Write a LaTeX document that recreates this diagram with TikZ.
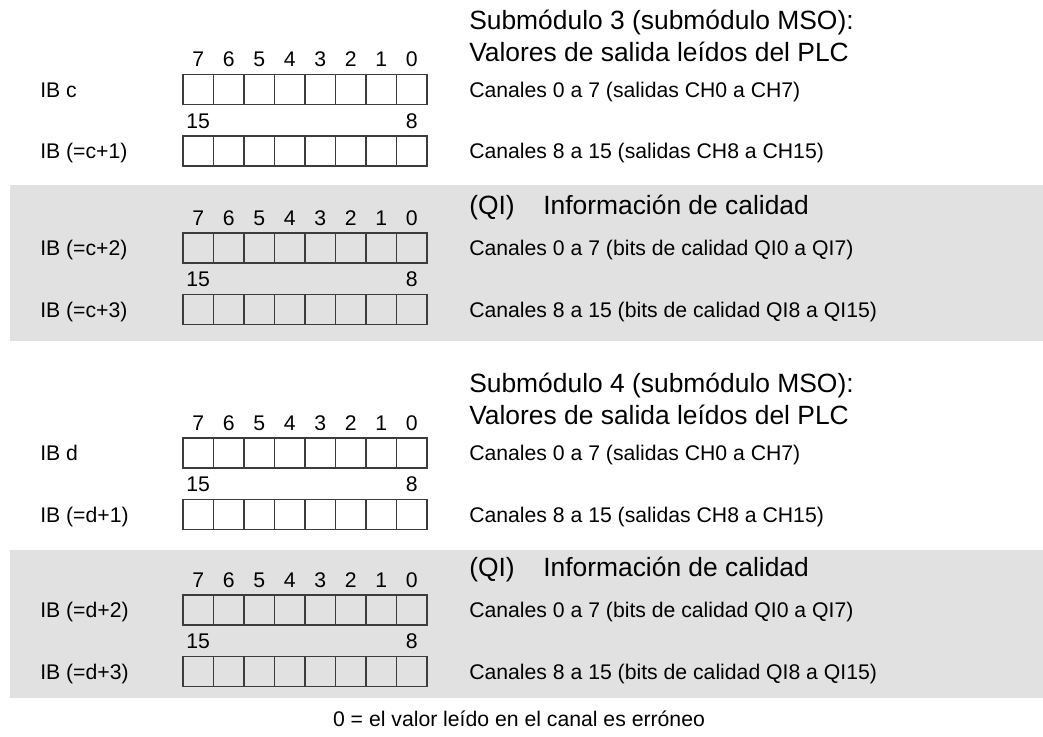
\documentclass[tikz,border=0pt]{standalone}
\usepackage{fontspec}
\setmainfont{Liberation Sans}
\usetikzlibrary{positioning}

\definecolor{bandgray}{RGB}{225,225,225}
\definecolor{linegray}{RGB}{60,60,60}

\tikzset{
  band/.style={fill=bandgray},
  cell/.style={draw=linegray, line width=0.9pt, minimum width=22.9pt, minimum height=22.5pt, inner sep=0pt},
  bitno/.style={font=\fontsize{15.9}{18}\selectfont, inner sep=1pt, text height=11.4pt, text depth=0pt},
  lbl/.style={anchor=west, font=\fontsize{15.9}{18}\selectfont, inner sep=0pt, text height=15.4pt, text depth=4pt},
  big/.style={anchor=west, font=\fontsize{19.8}{22}\selectfont, inner sep=0pt, text height=19.2pt, text depth=5pt}
}

\begin{document}
\begin{tikzpicture}[x=0.75pt, y=-0.75pt]
  \useasboundingbox (0,0) rectangle (1043,736);

  % Bands
  \fill[band] (10,185) rectangle (1043,341);
  \fill[band] (10,550) rectangle (1043,698);

  % Headings
  \node[big] (sub3)  at (469,20)    {Submódulo 3 (submódulo MSO):};
  \node[big] (val3)  at (469,52)    {Valores de salida leídos del PLC};
  \node[big] (qi3)   at (469,205)   {(QI)};
  \node[big] (inf3)  at (543,205)   {Información de calidad};
  \node[big] (sub4)  at (469,383.5) {Submódulo 4 (submódulo MSO):};
  \node[big] (val4)  at (469,415.5) {Valores de salida leídos del PLC};
  \node[big] (qi4)   at (469,567)   {(QI)};
  \node[big] (inf4)  at (543,567)   {Información de calidad};

  % Bytes
  \foreach \blk/\y/\ibx/\iby/\chx/\chy in {
      a/89.5/{IB c}/{IB (=c+1)}/{Canales 0 a 7 (salidas CH0 a CH7)}/{Canales 8 a 15 (salidas CH8 a CH15)},
      b/248/{IB (=c+2)}/{IB (=c+3)}/{Canales 0 a 7 (bits de calidad QI0 a QI7)}/{Canales 8 a 15 (bits de calidad QI8 a QI15)},
      c/453/{IB d}/{IB (=d+1)}/{Canales 0 a 7 (salidas CH0 a CH7)}/{Canales 8 a 15 (salidas CH8 a CH15)},
      d/610/{IB (=d+2)}/{IB (=d+3)}/{Canales 0 a 7 (bits de calidad QI0 a QI7)}/{Canales 8 a 15 (bits de calidad QI8 a QI15)}}
  {
    \node[lbl] (\blk-iblo) at (40,\y)      {\ibx};
    \node[lbl] (\blk-ibhi) at (40,\y+61.5) {\iby};
    \node[lbl] (\blk-chlo) at (469,\y)      {\chx};
    \node[lbl] (\blk-chhi) at (469,\y+61.5) {\chy};
    \foreach \i in {0,...,7} {
      \node[cell] (\blk-lo\i) at (198.25+30.5*7-30.5*\i,\y) {};
      \node[cell] (\blk-hi\i) at (198.25+30.5*7-30.5*\i,\y+61.5) {};
      \node[bitno, above=4.3pt of \blk-lo\i] (\blk-n\i) {\i};
    }
    \node[bitno, above=4.3pt of \blk-hi7] (\blk-n15) {15};
    \node[bitno, above=4.3pt of \blk-hi0] (\blk-n8) {8};
  }

  % Note
  \node[lbl, anchor=center] (note) at (519,719) {0 = el valor leído en el canal es erróneo};
\end{tikzpicture}
\end{document}
